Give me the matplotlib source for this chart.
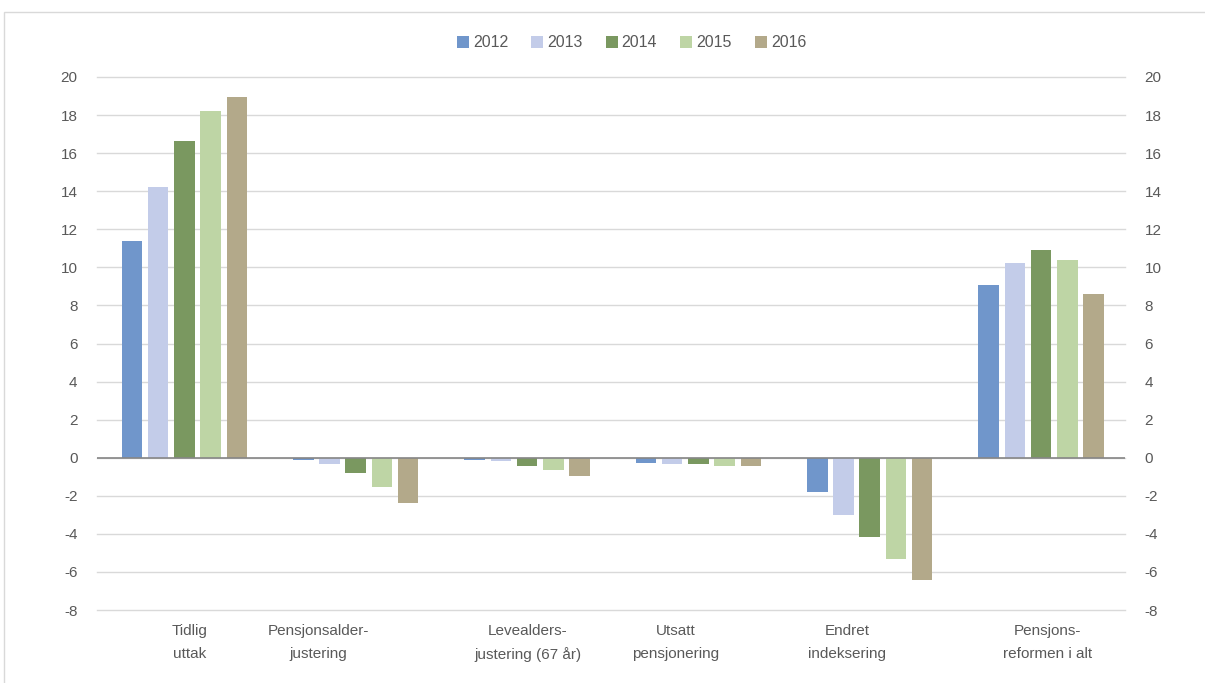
import numpy as np
import matplotlib.pyplot as plt
from matplotlib.patches import Rectangle

plt.rcParams['font.family'] = ['Liberation Sans', 'DejaVu Sans']
plt.rcParams['axes.unicode_minus'] = False

categories = ["Tidlig\nuttak", "Pensjonsalder-\njustering", "Levealders-\njustering (67 år)",
              "Utsatt\npensjonering", "Endret\nindeksering", "Pensjons-\nreformen i alt"]
years = ["2012", "2013", "2014", "2015", "2016"]
v2012 = [11.4, -0.12, -0.12, -0.27, -1.8, 9.05]
v2013 = [14.2, -0.35, -0.19, -0.33, -3.0, 10.23]
v2014 = [16.65, -0.82, -0.41, -0.35, -4.15, 10.9]
v2015 = [18.2, -1.52, -0.66, -0.41, -5.3, 10.38]
v2016 = [18.93, -2.36, -0.96, -0.41, -6.45, 8.6]
series = [v2012, v2013, v2014, v2015, v2016]
colors = ["#7096CB", "#C3CCE9", "#7A9860", "#BED5A5", "#B3A98A"]

# Excel places the wrapped category labels a bit off-centre
label_shift = [0.03, -0.22, 0.005, -0.13, -0.13, 0.04]

fig = plt.figure(figsize=(12.05, 6.83), dpi=100)
ax = fig.add_axes([97 / 1205, 1 - 610 / 683, 1028 / 1205, 533 / 683])

x = np.arange(len(categories))
step = 0.153
width = 0.12
for i, (vals, col, yr) in enumerate(zip(series, colors, years)):
    ax.bar(x + (i - 2) * step + 0.01, vals, width, color=col, label=yr, zorder=3)

ax.set_xlim(-0.5, len(categories) - 0.5)
ax.set_ylim(-8, 20)
ticks = np.arange(-8, 21, 2)
ax.set_yticks(ticks)
ax.yaxis.grid(True, color="#D9D9D9", linewidth=1, zorder=0)
for gl in ax.get_ygridlines():
    gl.set_clip_on(False)
ax.axhline(0, color="#868686", linewidth=1.2, zorder=4)
for s in ax.spines.values():
    s.set_visible(False)
ax.tick_params(axis="y", length=0, labelsize=11, labelcolor="#595959", pad=14)
ax.set_xticks([])

ax2 = ax.twinx()
ax2.set_ylim(ax.get_ylim())
ax2.set_yticks(ticks)
for s in ax2.spines.values():
    s.set_visible(False)
ax2.tick_params(axis="y", length=0, labelsize=11, labelcolor="#595959", pad=14)

for xi, lab, sh in zip(x, categories, label_shift):
    ax.text(xi + sh + 0.01, -8.75, lab, ha="center", va="top", fontsize=11,
            color="#595959", linespacing=1.75)

ax.legend(loc="upper center", bbox_to_anchor=(0.52, 1.105), ncol=5, frameon=False,
          fontsize=11.5, handlelength=0.75, handleheight=0.75, handletextpad=0.25,
          columnspacing=1.45, labelcolor="#595959")

fig.patches.append(Rectangle((4 / 1205, -0.1), 1.2, 1 - 12 / 683 + 0.1,
                             transform=fig.transFigure, fill=False,
                             edgecolor="#D9D9D9", linewidth=1))

fig.savefig("out.png", dpi=100)
